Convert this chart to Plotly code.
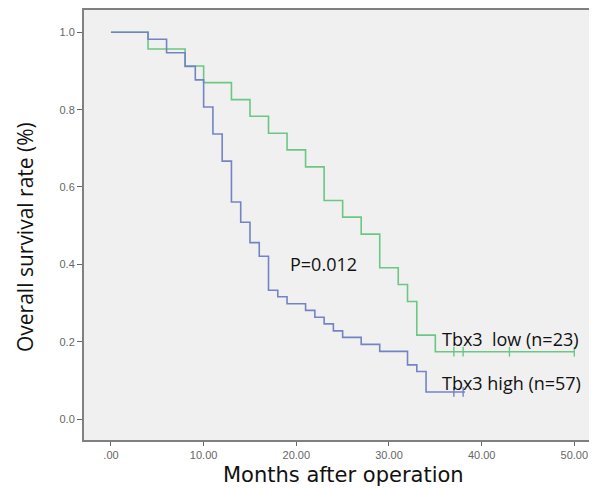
import plotly.graph_objects as go

# Tbx3 low (n=23) - green
low_t = [0, 4.0, 8.0, 10.0, 13.0, 15.0, 17.0, 19.0, 21.0, 23.0, 25.0, 27.0, 29.0, 31.0, 32.0, 33.0, 35.0, 50.0]
low_s = [1.0, 0.957, 0.913, 0.870, 0.826, 0.783, 0.739, 0.696, 0.652, 0.565, 0.522, 0.478, 0.391, 0.348, 0.304, 0.217, 0.174, 0.174]
low_cens_t = [37.0, 38.0, 43.0, 50.0]
low_cens_s = [0.174, 0.174, 0.174, 0.174]

# Tbx3 high (n=57) - blue
high_t = [0, 4.0, 6.0, 8.0, 9.1, 10.0, 11.0, 12.0, 13.0, 14.0, 15.0, 16.0, 17.0, 18.0, 19.0,
          21.0, 22.0, 23.0, 24.0, 25.0, 27.0, 29.0, 32.0, 33.0, 34.0, 38.2]
high_s = [1.0, 0.982, 0.947, 0.912, 0.877, 0.807, 0.737, 0.667, 0.561, 0.509, 0.456, 0.421, 0.333, 0.316, 0.298,
          0.281, 0.263, 0.246, 0.228, 0.211, 0.193, 0.175, 0.140, 0.123, 0.070, 0.070]
high_cens_t = [37.0, 38.0]
high_cens_s = [0.070, 0.070]

x_ticks = [0, 10, 20, 30, 40, 50]
x_tick_labels = [".00", "10.00", "20.00", "30.00", "40.00", "50.00"]
y_ticks = [0.0, 0.2, 0.4, 0.6, 0.8, 1.0]
y_tick_labels = ["0.0", "0.2", "0.4", "0.6", "0.8", "1.0"]

green = "#6cc684"
blue = "#7384c4"

fig = go.Figure()
fig.add_trace(go.Scatter(x=low_t, y=low_s, mode="lines", line=dict(color=green, width=1.6, shape="hv"),
                         showlegend=False, hoverinfo="skip"))
fig.add_trace(go.Scatter(x=high_t, y=high_s, mode="lines", line=dict(color=blue, width=1.6, shape="hv"),
                         showlegend=False, hoverinfo="skip"))
fig.add_trace(go.Scatter(x=low_cens_t, y=low_cens_s, mode="markers",
                         marker=dict(symbol="line-ns", size=7, line=dict(color=green, width=1.4)),
                         showlegend=False, hoverinfo="skip"))
fig.add_trace(go.Scatter(x=high_cens_t, y=high_cens_s, mode="markers",
                         marker=dict(symbol="line-ns", size=7, line=dict(color=blue, width=1.4)),
                         showlegend=False, hoverinfo="skip"))

ann_font = dict(family="Open Sans, Liberation Sans, sans-serif", size=18, color="#111")
fig.add_annotation(x=19.1, y=0.402, text="P=0.012", showarrow=False, xanchor="left", yanchor="middle", font=ann_font)
fig.add_annotation(x=35.5, y=0.208, text="Tbx3  low (n=23)", showarrow=False, xanchor="left", yanchor="middle", font=ann_font)
fig.add_annotation(x=35.5, y=0.092, text="Tbx3 high (n=57)", showarrow=False, xanchor="left", yanchor="middle", font=ann_font)

fig.add_annotation(xref="paper", yref="paper", x=0.507, y=-0.082, text="Months after operation",
                   showarrow=False, xanchor="center", yanchor="middle",
                   font=dict(family="DejaVu Sans, sans-serif", size=21, color="#111"))
fig.add_annotation(xref="paper", yref="paper", x=-0.1155, y=0.472, text="Overall survival rate (%)",
                   showarrow=False, xanchor="center", yanchor="middle", textangle=-90,
                   font=dict(family="Open Sans, sans-serif", size=21, color="#111"))

tick_font = dict(family="Liberation Sans, Arial, sans-serif", size=11, color="#666")
fig.update_xaxes(range=[-2.91, 52.23], tickvals=x_ticks, ticktext=x_tick_labels, ticks="outside", ticklen=4,
                 tickcolor="#666", tickwidth=1.2, showline=True, linecolor="#808080", linewidth=2, mirror=True,
                 showgrid=False, zeroline=False, tickfont=tick_font, automargin=False)
fig.update_yaxes(range=[-0.0543, 1.0577], tickvals=y_ticks, ticktext=y_tick_labels, ticks="outside", ticklen=5,
                 tickcolor="#666", tickwidth=1.2, showline=True, linecolor="#808080", linewidth=2, mirror=True,
                 showgrid=False, zeroline=False, tickfont=tick_font, automargin=False)
# page body adds an 8px margin, so the figure is sized and offset to compensate
fig.update_layout(width=589, height=480, margin=dict(l=76, r=2, t=2, b=48),
                  plot_bgcolor="#f0f0f0", paper_bgcolor="white")
fig.write_html("out.html")
